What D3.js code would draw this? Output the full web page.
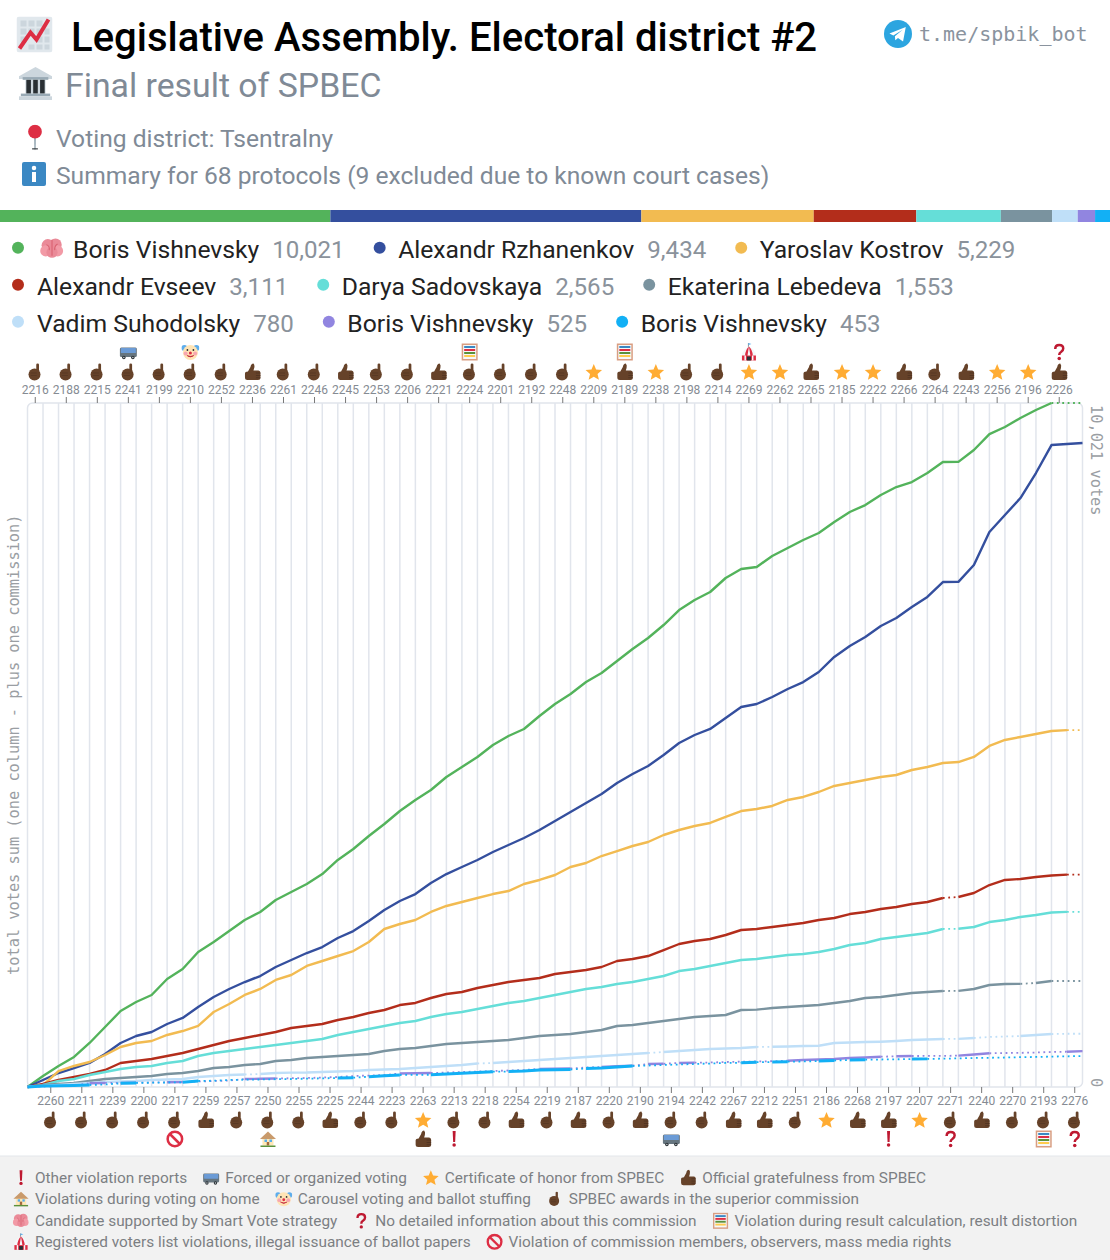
<!DOCTYPE html>
<html><head><meta charset="utf-8">
<script src="https://cdnjs.cloudflare.com/ajax/libs/d3/7.8.5/d3.min.js"></script>
<style>
html,body{margin:0;padding:0;background:#fff}
svg{display:block}
text{font-family:Roboto,sans-serif}
.mono{font-family:"DejaVu Sans Mono",monospace}
</style></head><body>
<svg id="c" width="1110" height="1260" xmlns="http://www.w3.org/2000/svg"></svg>
<script>
const candidates=["Boris Vishnevsky","Alexandr Rzhanenkov","Yaroslav Kostrov","Alexandr Evseev","Darya Sadovskaya","Ekaterina Lebedeva","Vadim Suhodolsky","Boris Vishnevsky","Boris Vishnevsky"];
const totals=[10021,9434,5229,3111,2565,1553,780,525,453];
const colors=["#53B35B","#344F9E","#F2BB51","#B32D1B","#65DED8","#7A939F","#BFDFF8","#9185E0","#12B0F5"];
const topCommissions=["2216","2188","2215","2241","2199","2210","2252","2236","2261","2246","2245","2253","2206","2221","2224","2201","2192","2248","2209","2189","2238","2198","2214","2269","2262","2265","2185","2222","2266","2264","2243","2256","2196","2226"];
const bottomCommissions=["2260","2211","2239","2200","2217","2259","2257","2250","2255","2225","2244","2223","2263","2213","2218","2254","2219","2187","2220","2190","2194","2242","2267","2212","2251","2186","2268","2197","2207","2271","2240","2270","2193","2276"];
// p point, t thumb, s star, b bus, c clown, a abacus, r tent, q question, x exclamation, n prohibited, h house
const topMarks=["p","p","p","pb","p","pc","p","t","p","p","t","p","p","t","pa","p","p","p","s","ta","s","p","p","sr","s","t","s","s","t","p","t","s","s","tq"];
const bottomMarks=["p","p","p","p","pn","t","p","ph","p","t","p","p","st","px","p","t","p","t","p","t","pb","p","t","t","p","s","t","tx","s","pq","t","p","pa","pq"];

const seriesGreen=[0,161,308,440,645,879,1113,1245,1348,1582,1729,1978,2124,2285,2447,2564,2740,2857,2974,3120,3326,3487,3677,3853,4043,4205,4351,4542,4688,4835,5010,5142,5245,5435,5611,5757,5933,6065,6241,6417,6578,6768,6988,7135,7252,7457,7589,7618,7779,7896,8014,8116,8277,8424,8526,8673,8790,8863,8995,9156,9158,9332,9566,9669,9801,9918,10021,10021,10021];
const seriesBlue=[0,103,205,278,352,483,645,747,806,923,1011,1172,1319,1436,1538,1626,1758,1861,1963,2051,2183,2285,2432,2593,2725,2827,2989,3120,3223,3326,3443,3545,3648,3765,3897,4029,4161,4292,4454,4585,4703,4864,5040,5157,5245,5406,5567,5611,5714,5831,5933,6080,6300,6461,6593,6754,6871,7032,7179,7398,7400,7647,8131,8380,8629,8995,9405,9420,9434];
const seriesYellow=[0,29,234,308,366,469,586,645,674,762,820,894,1099,1216,1348,1436,1568,1641,1773,1846,1919,1992,2124,2315,2388,2447,2564,2652,2710,2769,2827,2871,2974,3033,3106,3223,3282,3384,3457,3531,3589,3692,3765,3824,3868,3956,4043,4073,4117,4205,4249,4322,4410,4454,4498,4542,4571,4644,4688,4747,4761,4835,4996,5084,5128,5172,5215,5229,5229];
const seriesRed=[0,44,103,147,190,249,352,381,410,454,498,557,615,674,718,762,806,864,894,923,982,1026,1084,1128,1201,1231,1304,1362,1392,1450,1494,1538,1568,1597,1655,1685,1714,1758,1846,1875,1919,2007,2095,2139,2168,2227,2300,2315,2344,2373,2403,2447,2476,2534,2564,2608,2637,2681,2710,2769,2784,2842,2959,3033,3047,3077,3098,3111,3111];
const seriesTeal=[0,29,88,117,176,220,264,293,308,352,381,454,498,527,557,586,615,645,674,703,762,806,850,894,938,967,1026,1069,1099,1143,1187,1231,1260,1304,1348,1392,1436,1465,1509,1538,1582,1626,1699,1729,1773,1817,1861,1875,1905,1934,1948,1978,2022,2080,2110,2168,2198,2227,2256,2315,2318,2344,2417,2447,2491,2520,2557,2565,2565];
const seriesGrey=[0,29,44,59,88,117,132,147,161,190,205,234,278,293,322,337,381,396,425,440,454,469,483,527,557,571,601,630,645,659,674,689,718,747,762,776,806,835,894,908,938,967,996,1026,1040,1055,1128,1133,1157,1172,1187,1201,1231,1260,1304,1319,1348,1377,1392,1406,1408,1436,1494,1509,1511,1524,1553,1553,1553];
const seriesLight=[0,15,29,44,59,73,81,88,103,110,117,147,161,176,183,190,205,210,212,220,227,234,249,256,264,278,293,308,322,344,352,366,381,396,410,425,440,454,469,483,498,513,527,542,557,564,571,586,590,593,601,605,645,652,659,664,674,689,696,703,705,718,733,740,747,762,776,780,780];
const seriesViolet=[0,7,15,22,54,59,59,63,66,69,73,81,88,95,117,120,125,129,132,139,147,161,168,176,198,201,205,212,220,227,234,242,249,264,267,271,286,293,303,312,337,340,352,356,359,366,371,374,378,385,396,403,410,425,432,444,450,454,455,456,459,476,494,498,501,505,513,517,525];
const seriesBright=[0,15,19,23,29,37,54,59,63,66,69,88,92,103,107,110,114,117,122,126,132,136,151,164,176,178,180,190,201,212,224,226,234,249,253,256,271,278,293,308,315,322,330,337,344,352,356,363,366,371,374,381,388,396,400,403,406,410,412,415,419,425,428,432,437,440,445,450,453];
const seriesValues=[seriesGreen,seriesBlue,seriesYellow,seriesRed,seriesTeal,seriesGrey,seriesLight,seriesViolet,seriesBright];

// segment k joins column boundary k to k+1; these segments are drawn dotted
const dottedGreen=[66,67];
const dottedBlue=[];
const dottedYellow=[67];
const dottedRed=[59,67];
const dottedTeal=[59,67];
const dottedGrey=[59,64,66,67];
const dottedLight=[14,29,40,47,59,61,62,63,66,67];
const dottedViolet=[0,1,2,3,5,7,8,10,11,12,13,16,17,18,19,20,21,22,23,26,27,28,29,30,31,32,35,36,39,41,43,44,45,46,47,48,55,57,58,59,62,63,64,65,66];
const dottedBright=[4,5,7,8,9,11,12,13,14,15,16,17,18,19,21,24,25,30,35,39,40,41,42,43,44,45,47,49,50,52,54,55,56,58,59,60,61,62,63,64,65,66,67];
const dottedSegments=[dottedGreen,dottedBlue,dottedYellow,dottedRed,dottedTeal,dottedGrey,dottedLight,dottedViolet,dottedBright];

const footerRows=[
 [["x","Other violation reports"],["b","Forced or organized voting"],["s","Certificate of honor from SPBEC"],["t","Official gratefulness from SPBEC"]],
 [["h","Violations during voting on home"],["c","Carousel voting and ballot stuffing"],["p","SPBEC awards in the superior commission"]],
 [["B","Candidate supported by Smart Vote strategy"],["q","No detailed information about this commission"],["a","Violation during result calculation, result distortion"]],
 [["r","Registered voters list violations, illegal issuance of ballot papers"],["n","Violation of commission members, observers, mass media rights"]]
];

const svg=d3.select("#c");
const brown="#664229";
const defs=svg.append("defs");
const symbols={
 p:`<rect x="20" y="1" width="5.5" height="20" rx="2.7" fill="${brown}"/><circle cx="16.5" cy="23" r="12" fill="${brown}"/><path d="M9 20h12M9 25h12" stroke="#4C3020" stroke-width="1"/>`,
 t:`<path d="M9 17 L14 8 Q15 1 20 1 Q23 4 21.5 10 L20 15 H30 Q34 15 34 20 V29 Q34 34 29 34 H8 Q3 34 3 29 V21 Q3 17 9 17Z" fill="${brown}"/><path d="M25 20h9M25 25h9M25 29.500h9" stroke="#4C3020" stroke-width="1.500"/>`,
 s:`<polygon points="18,2 22.6,13 34.5,14 25.5,22 28.3,33.5 18,27.3 7.7,33.5 10.5,22 1.5,14 13.400,13" fill="#FFAC33"/>`,
 b:`<rect x="1" y="9" width="34" height="19" rx="3" fill="#66757F"/><rect x="3" y="10" width="30" height="10" rx="1" fill="#6B9BD6"/><circle cx="9" cy="29" r="3.500" fill="#292F33"/><circle cx="27" cy="29" r="3.500" fill="#292F33"/><circle cx="9" cy="29" r="1.400" fill="#CCD6DD"/><circle cx="27" cy="29" r="1.400" fill="#CCD6DD"/>`,
 c:`<circle cx="6" cy="10" r="6" fill="#5DADEC"/><circle cx="30" cy="10" r="6" fill="#5DADEC"/><circle cx="18" cy="19" r="15" fill="#FFE4B5"/><circle cx="8.500" cy="21" r="4" fill="#F7A6B0"/><circle cx="27.500" cy="21" r="4" fill="#F7A6B0"/><circle cx="12" cy="14" r="1.800" fill="#292F33"/><circle cx="24" cy="14" r="1.800" fill="#292F33"/><circle cx="18" cy="20" r="3" fill="#DD2E44"/><path d="M11 25 Q18 31 25 25 Q18 28 11 25Z" fill="#BE1931" stroke="#BE1931"/>`,
 a:`<rect x="2" y="1" width="32" height="34" fill="#D99E82"/><rect x="5" y="4" width="26" height="28" fill="#F5F8FA"/><rect x="7" y="6" width="22" height="4" fill="#3B88C3"/><rect x="7" y="12" width="22" height="4" fill="#DD2E44"/><rect x="7" y="18" width="22" height="4" fill="#5C913B"/><rect x="7" y="24" width="22" height="4" fill="#FFCC4D"/>`,
 r:`<path d="M17 0 V9" stroke="#66757F" stroke-width="1.500"/><path d="M17 0 L23 2 L17 4Z" fill="#55ACEE"/><path d="M3 26 Q5 13 18 7 Q31 13 33 26Z" fill="#F5F8FA"/><path d="M18 7 Q11 13 10 26 H15 Z M18 7 Q25 13 26 26 H21Z" fill="#DD2E44"/><rect x="4" y="25" width="28" height="10" fill="#DD2E44"/><rect x="9" y="25" width="3" height="10" fill="#F5F8FA"/><rect x="24" y="25" width="3" height="10" fill="#F5F8FA"/><rect x="14" y="27" width="8" height="8" fill="#292F33"/>`,
 q:`<path d="M10 12 Q10 4 18 4 Q26 4 26 11 Q26 15 21.500 18 Q18 20 18 24" fill="none" stroke="#BE1931" stroke-width="5"/><circle cx="18" cy="31" r="3.500" fill="#BE1931"/>`,
 x:`<path d="M15 2 H21 L20 24 H16Z" fill="#BE1931"/><circle cx="18" cy="30" r="3.500" fill="#BE1931"/>`,
 n:`<circle cx="18" cy="18" r="14.500" fill="none" stroke="#DD2E44" stroke-width="5"/><path d="M8 8 L28 28" stroke="#DD2E44" stroke-width="5"/>`,
 h:`<rect x="7" y="16" width="22" height="15" fill="#FFE8B6"/><path d="M2 18 L18 3 L34 18Z" fill="#C99A6B"/><rect x="11" y="19" width="5" height="5" fill="#55ACEE"/><rect x="21" y="19" width="5" height="5" fill="#55ACEE"/><rect x="15.500" y="24" width="5" height="7" fill="#A0693F"/><rect x="3" y="31" width="30" height="3" fill="#5C913B"/>`,
 B:`<circle cx="12" cy="13" r="9" fill="#EA8A98"/><circle cx="23" cy="12" r="9" fill="#EA8A98"/><circle cx="9" cy="21" r="8" fill="#F29AA6"/><circle cx="26" cy="21" r="8" fill="#F29AA6"/><circle cx="18" cy="23" r="8" fill="#EA8A98"/><path d="M18 5 V28 M10 12 Q15 14 14 20 M26 11 Q21 14 22 20" stroke="#D8606F" stroke-width="1.500" fill="none"/>`,
 P:`<path d="M16.700 14 L17 33 L18 36 L19 33 L19.300 14Z" fill="#99AAB5"/><rect x="14" y="33" width="8" height="1.500" fill="#292F33"/><circle cx="18" cy="10" r="9.500" fill="#DD2E44"/>`,
 I:`<rect x="0" y="0" width="36" height="36" rx="3" fill="#3B88C3"/><circle cx="18" cy="9" r="3.400" fill="#fff"/><rect x="15" y="15" width="6" height="15" fill="#fff"/>`,
 C:`<rect x="0" y="0" width="36" height="36" rx="3" fill="#E1E8ED"/><g fill="#CCD6DD"><rect x="4" y="4" width="6" height="6"/><rect x="12" y="4" width="6" height="6"/><rect x="20" y="4" width="6" height="6"/><rect x="4" y="12" width="6" height="6"/><rect x="12" y="12" width="6" height="6"/><rect x="20" y="12" width="6" height="6"/><rect x="28" y="12" width="5" height="6"/><rect x="4" y="20" width="6" height="6"/><rect x="20" y="20" width="6" height="6"/><rect x="28" y="20" width="5" height="6"/><rect x="12" y="28" width="6" height="5"/><rect x="20" y="28" width="6" height="5"/><rect x="28" y="28" width="5" height="5"/></g><path d="M3 32 L14 16 L20 23 L32 3" fill="none" stroke="#DD2E44" stroke-width="4"/>`,
 G:`<path d="M18 0 L36 10 V13 H0 V10Z" fill="#CCD6DD"/><rect x="4" y="11" width="28" height="3" fill="#99AAB5"/><rect x="7" y="14" width="22" height="15" fill="#CCD6DD"/><rect x="8" y="14" width="5" height="15" fill="#292F33"/><rect x="15.500" y="14" width="5" height="15" fill="#292F33"/><rect x="23" y="14" width="5" height="15" fill="#292F33"/><rect x="2" y="29" width="32" height="3" fill="#99AAB5"/><rect x="0" y="32" width="36" height="4" fill="#CCD6DD"/>`,
 T:`<circle cx="18" cy="18" r="18" fill="#2CA5E0"/><path d="M7 17.500 L28 9 L24.500 27.500 L18 23 L14.500 26 L14 21 L24 12.500 L12 20Z" fill="#fff"/>`
};
Object.entries(symbols).forEach(([k,v])=>{
  defs.append("symbol").attr("id","i-"+k).attr("viewBox","0 0 36 36").html(v);
});
function icon(g,key,cx,cy,size){
  g.append("use").attr("href","#i-"+key).attr("x",cx-size/2).attr("y",cy-size/2).attr("width",size).attr("height",size);
}
function label(x,y,txt,size,fill,weight){
  return svg.append("text").attr("x",x).attr("y",y).attr("font-size",size).attr("fill",fill).attr("font-weight",weight||400).text(txt);
}

// Header
icon(svg,"C",34.5,34.5,36);
label(71,51,"Legislative Assembly. Electoral district #2",40.05,"#000",500);
icon(svg,"G",35.5,83.5,33);
label(65,97,"Final result of SPBEC",33.8,"#808A96");
icon(svg,"P",35,137.500,26);
label(56,146.700,"Voting district: Tsentralny",24.6,"#808A96");
icon(svg,"I",34,174,24);
label(56,183.700,"Summary for 68 protocols (9 excluded due to known court cases)",24.6,"#808A96");
icon(svg,"T",898,34,28);
svg.append("text").attr("class","mono").attr("x",919).attr("y",41).attr("font-size",20).attr("fill","#8A939E").text("t.me/spbik_bot");

// Stacked share bar
const barX=d3.scaleLinear().domain([0,d3.sum(totals)]).range([0,1110]);
const cum=d3.cumsum(totals);
svg.append("g").selectAll("rect").data(totals).join("rect")
  .attr("x",(d,i)=>barX(cum[i]-d)).attr("width",d=>barX(d)).attr("y",210).attr("height",12)
  .attr("fill",(d,i)=>colors[i]);

// Candidate legend
const rowYs=[258.300,295.300,332.300];
const fmt=d3.format(",");
let legendX=12;
candidates.forEach((name,i)=>{
  const row=Math.floor(i/3);
  if(i%3===0) legendX=12;
  let x=legendX;
  const yy=rowYs[row];
  svg.append("circle").attr("cx",x+6).attr("cy",yy-10.500).attr("r",6).attr("fill",colors[i]);
  x+=i%3===0?25:24.5;
  if(i===0){icon(svg,"B",x+15,yy-9.500,25);x+=36;}
  const a=label(x,yy,name,24.7,"#222");
  x+=a.node().getComputedTextLength()+13;
  const b=label(x,yy,fmt(totals[i]),24.1,"#8A929B");
  x+=b.node().getComputedTextLength()+29;
  legendX=x;
});

// Chart
const plotLeft=27.5,plotRight=1082.5,plotTop=403,plotBottom=1087;
const allCommissions=topCommissions.flatMap((d,i)=>[d,bottomCommissions[i]]);
const xBand=d3.scaleBand().domain(allCommissions).range([plotLeft,plotRight]);
const xEdge=d3.scaleLinear().domain([0,allCommissions.length]).range([plotLeft,plotRight]);
const yScale=d3.scaleLinear().domain([0,10021]).range([plotBottom,plotTop]);

svg.append("g").selectAll("line").data(d3.range(1,allCommissions.length)).join("line")
  .attr("x1",d=>xEdge(d)).attr("x2",d=>xEdge(d)).attr("y1",plotTop).attr("y2",plotBottom)
  .attr("stroke","#E1E5EC").attr("stroke-width",1.5);
svg.append("rect").attr("x",plotLeft).attr("y",plotTop).attr("width",plotRight-plotLeft).attr("height",plotBottom-plotTop).attr("rx",5)
  .attr("fill","none").attr("stroke","#E1E5EC").attr("stroke-width",1.5);

const axT=svg.append("g").attr("transform",`translate(0,${plotTop})`).call(d3.axisTop(xBand).tickValues(topCommissions).tickSize(6).tickPadding(3));
const axB=svg.append("g").attr("transform",`translate(0,${plotBottom})`).call(d3.axisBottom(xBand).tickValues(bottomCommissions).tickSize(6).tickPadding(3));
[axT,axB].forEach(a=>{
  a.select(".domain").remove();
  a.attr("font-family","Roboto,sans-serif").attr("font-size",12);
  a.selectAll("text").attr("fill","#858B93").attr("font-family","Roboto,sans-serif");
  a.selectAll("line").attr("stroke","#777");
});

const line=d3.line().x(d=>xEdge(d[0])).y(d=>yScale(d[1]));
const plot=svg.append("g");
seriesValues.forEach((vals,s)=>{
  const dotted=new Set(dottedSegments[s]);
  const pts=vals.map((v,i)=>[i,v]);
  let start=0;
  for(let k=0;k<pts.length-1;k++){
    const isDot=dotted.has(k);
    const end=k===pts.length-2||dotted.has(k+1)!==isDot;
    if(end){
      const p=plot.append("path").attr("d",line(pts.slice(start,k+2))).attr("fill","none")
        .attr("stroke",colors[s]).attr("stroke-width",isDot?1.8:(s===8?2.9:2.4)).attr("stroke-linejoin","round");
      if(isDot) p.attr("stroke-dasharray","1.8 3.6");
      start=k+1;
    }
  }
});

// Commission marks
function marks(cols,list,row1,row2){
  const g=svg.append("g");
  cols.forEach((c,i)=>{
    const cx=xBand(c)+xBand.bandwidth()/2;
    [...list[i]].forEach((m,j)=>{
      icon(g,m,cx,j===0?row1:row2,18);
    });
  });
}
marks(topCommissions,topMarks,372,352);
marks(bottomCommissions,bottomMarks,1120,1139);

// Axis captions
function rotated(x,yy,rot,txt,anchor){
  svg.append("text").attr("class","mono").attr("transform",`translate(${x},${yy}) rotate(${rot})`)
    .attr("text-anchor",anchor||"start").attr("font-size",15.3).attr("fill","#9A9EA3").text(txt);
}
rotated(19,975,-90,"total votes sum (one column - plus one commission)");
rotated(1091,405,90,"10,021 votes");
rotated(1091,1078,90,"0");

// Footer
svg.append("rect").attr("x",0).attr("y",1156).attr("width",1110).attr("height",104).attr("fill","#F2F2F2");
svg.append("line").attr("x1",0).attr("x2",1110).attr("y1",1156).attr("y2",1156).attr("stroke","#E3E6EA");
const footYs=[1182.8,1203.8,1225.8,1246.8];
footerRows.forEach((row,r)=>{
  let x=35;
  row.forEach(([k,txt],j)=>{
    if(j>0) x+=24;
    const tx=j>0?x+14:x;
    icon(svg,k,tx-14,footYs[r]-5,k==="p"?15:17);
    const t=label(tx,footYs[r],txt,15.37,"#7C7F83");
    x=tx+t.node().getComputedTextLength();
  });
});
</script>
</body></html>
